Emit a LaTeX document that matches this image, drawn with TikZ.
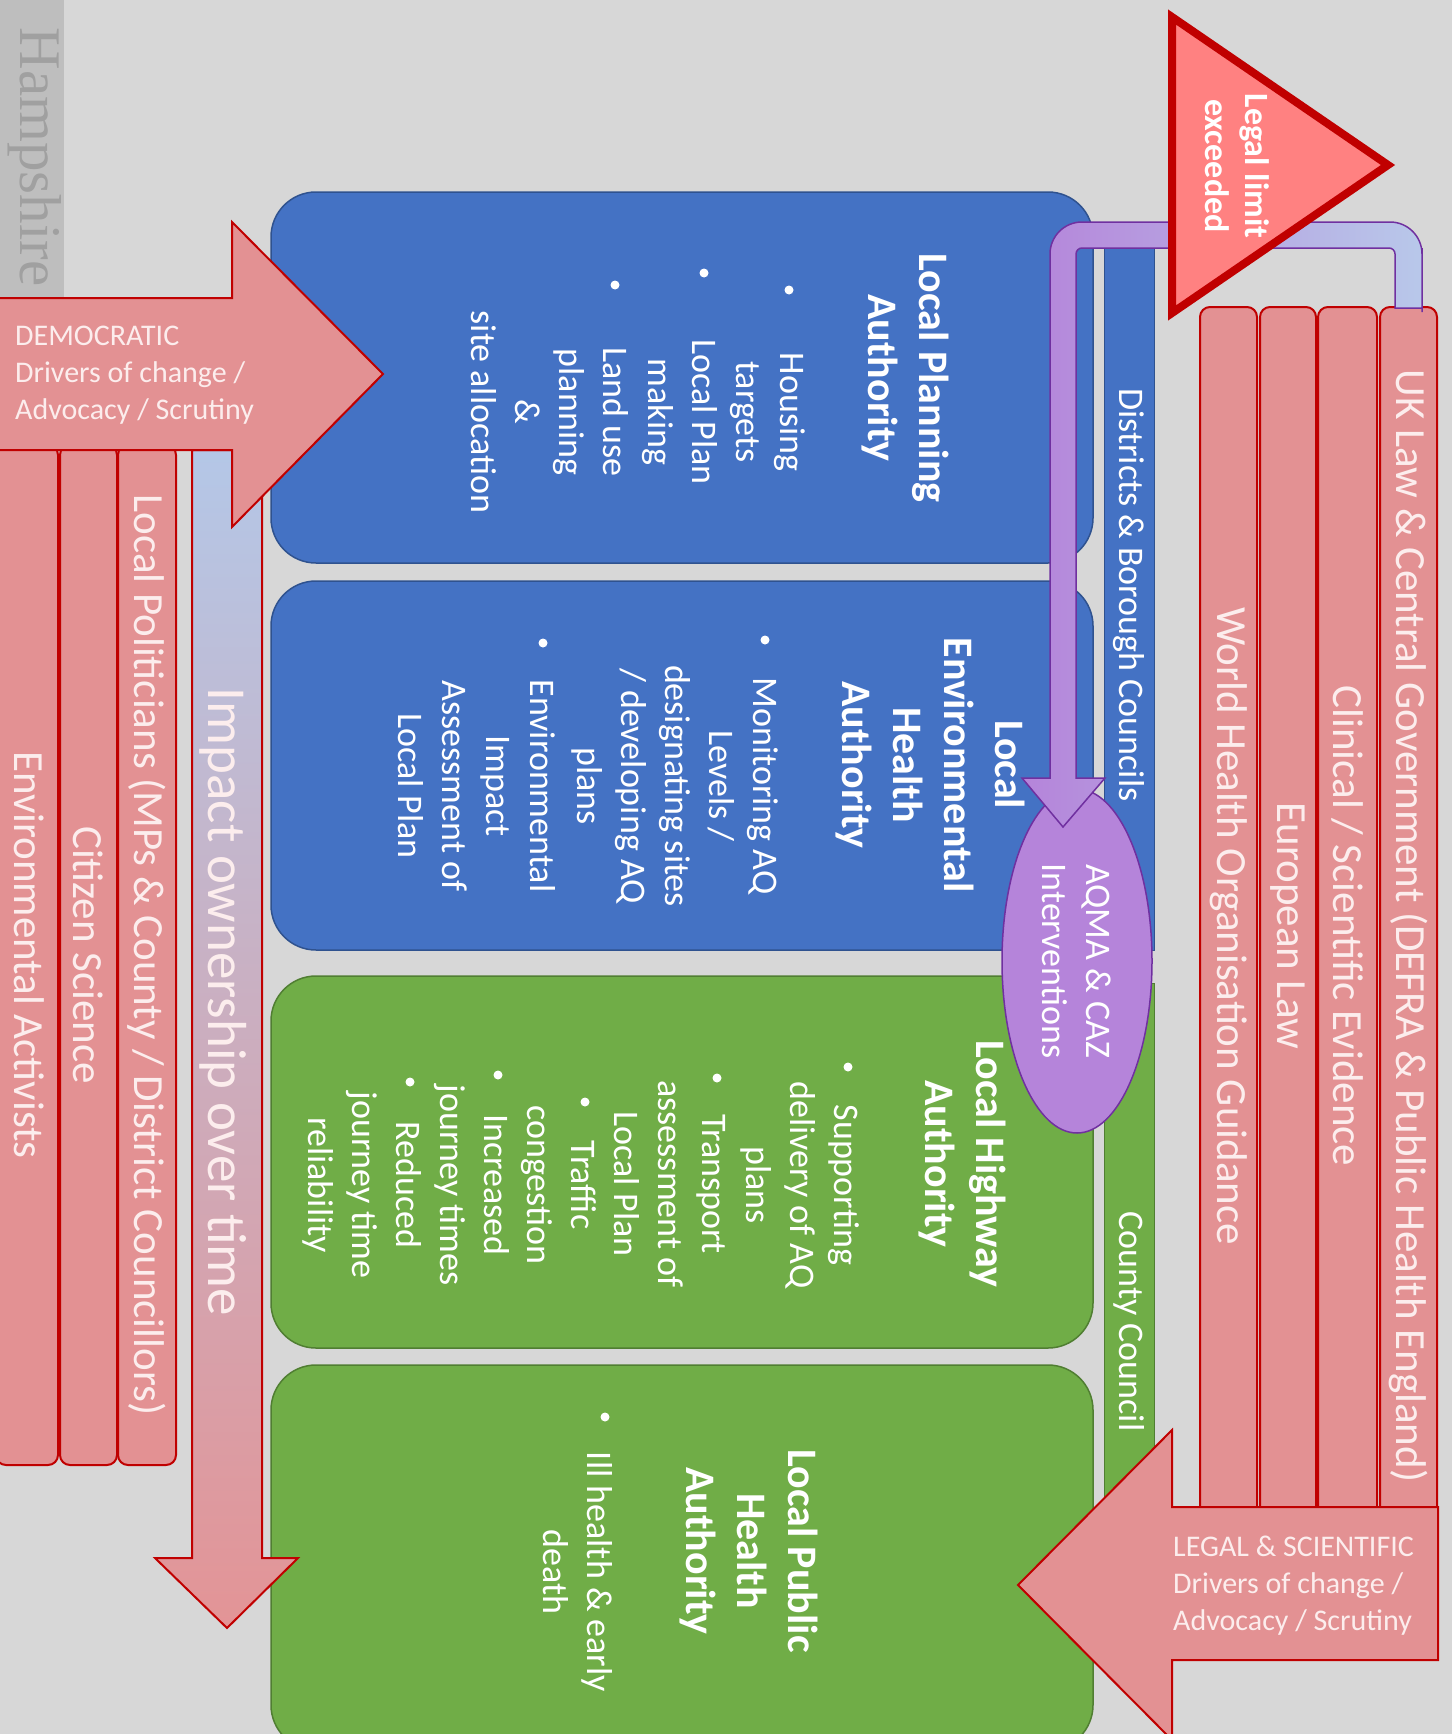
\documentclass[tikz,border=0pt]{standalone}
\usepackage{fontspec}
\setmainfont{Carlito}
\newfontfamily\hampfont{Liberation Serif}
\usetikzlibrary{shapes.geometric}
\definecolor{bg}{HTML}{D7D7D7}
\definecolor{stripgrey}{HTML}{BEBEBE}
\definecolor{redfill}{HTML}{E39193}
\definecolor{rededge}{HTML}{C00000}
\definecolor{trifill}{HTML}{FF8181}
\definecolor{bluefill}{HTML}{4472C4}
\definecolor{blueedge}{HTML}{2F528F}
\definecolor{greenfill}{HTML}{70AD47}
\definecolor{greenedge}{HTML}{507E32}
\definecolor{purfill}{HTML}{B584DA}
\definecolor{puredge}{HTML}{7030A0}
\definecolor{pipeblue}{HTML}{B8C8EA}
\definecolor{imppblue}{HTML}{B4C7E7}
\definecolor{impppink}{HTML}{E39496}
\definecolor{pinkwhite}{HTML}{FCEDED}
\definecolor{hampgrey}{HTML}{A0A0A0}
\newcommand\fsBody{\fontsize{36}{44}\selectfont}
\newcommand\fsTitle{\fontsize{42}{51}\selectfont\bfseries}
\newcommand\fsBar{\fontsize{43}{48}\selectfont}
\newcommand\fsDrv{\fontsize{30}{37}\selectfont}
\tikzset{
  rtext/.style={rotate=-90, text=white, align=center, inner sep=0pt, font=\fsBody},
  rtitle/.style={rotate=-90, text=white, align=center, inner sep=0pt, font=\fsTitle},
  bartext/.style={rotate=-90, text=pinkwhite, inner sep=0pt, font=\fsBar},
  dot/.style={circle, fill=white, inner sep=0pt, minimum size=9pt},
  redbar/.style={fill=redfill, draw=rededge, line width=2pt, rounded corners=10pt},
  bluebox/.style={rectangle, fill=bluefill, draw=blueedge, line width=1.5pt, rounded corners=45pt},
  greenbox/.style={rectangle, fill=greenfill, draw=greenedge, line width=1.5pt, rounded corners=45pt},
  bigarrow/.style={fill=redfill, draw=rededge, line width=2pt, line join=miter},
  drvtext/.style={anchor=west, align=left, font=\fsDrv, text=pinkwhite, inner sep=0pt},
}
\begin{document}
\begin{tikzpicture}[x=1pt,y=-1pt]
\useasboundingbox (0,0) rectangle (1452,1734);
\clip (0,0) rectangle (1452,1734);
\fill[bg] (0,0) rectangle (1452,1734);
\fill[stripgrey] (0,0) rectangle (64,300);
\node[rotate=-90, font=\hampfont\fontsize{59}{60}\selectfont, text=hampgrey, inner sep=0pt] (hamp) at (35,157) {Hampshire};

% right bars
\draw[redbar] (1200,307) rectangle (1257,1545);
\draw[redbar] (1260,307) rectangle (1316,1545);
\draw[redbar] (1318,307) rectangle (1377,1545);
\draw[redbar] (1380,307) rectangle (1437,1545);
\node[bartext] (uk) at (1408.5,926) {UK Law \& Central Government (DEFRA \& Public Health England)};
\node[bartext] (clin) at (1347.5,926) {Clinical / Scientific Evidence};
\node[bartext] (eu) at (1288,926) {European Law};
\node[bartext] (who) at (1228.5,926) {World Health Organisation Guidance};

% left bars
\draw[redbar] (-4,445) rectangle (58,1465);
\draw[redbar] (60,445) rectangle (117,1465);
\draw[redbar] (118,445) rectangle (176,1465);
\node[bartext] (pol) at (147,955) {Local Politicians (MPs \& County / District Councillors)};
\node[bartext] (cit) at (88.5,955) {Citizen Science};
\node[bartext] (act) at (29,955) {Environmental Activists};

% council strips
\node[rotate=-90, fill=bluefill, draw=blueedge, line width=1pt, minimum width=710pt, minimum height=50pt, inner sep=0pt, text=white, font=\fsBody] (dist) at (1129,595) {Districts \& Borough Councils};
\node[rotate=-90, fill=greenfill, draw=greenedge, line width=1pt, minimum width=677pt, minimum height=50pt, inner sep=0pt, text=white, font=\fsBody] (cty) at (1129,1321.5) {County Council};

% boxes
\node[bluebox, minimum width=822pt, minimum height=371pt] (lpa) at (682,377.5) {};
\node[bluebox, minimum width=822pt, minimum height=369pt] (leha) at (682,765.5) {};
\node[greenbox, minimum width=822pt, minimum height=372pt] (lha) at (682,1162) {};
\node[greenbox, minimum width=822pt, minimum height=385pt] (lpha) at (682,1557.5) {};

% LPA text
\node[rtitle] (lpaT) at (905,378) {Local Planning\\Authority};
\node[rtext] (lpa1) at (767.5,412) {Housing\\targets};
\node[rtext] (lpa2) at (679.5,412) {Local Plan\\making};
\node[rtext] (lpa3) at (549.5,412) {Land use\\planning\\\&\\site allocation};
\node[dot] (lpab1) at (789,290) {};
\node[dot] (lpab2) at (704,273) {};
\node[dot] (lpab3) at (615,285) {};

% LEHA text
\node[rtitle] (lehaT) at (930,765) {Local\\Environmental\\Health\\Authority};
\node[rtext] (leha1) at (674.5,786) {Monitoring AQ\\Levels /\\designating sites\\/ developing AQ\\plans};
\node[rtext] (leha2) at (476.5,786) {Environmental\\Impact\\Assessment of\\Local Plan};
\node[dot] (lehab1) at (765,640) {};
\node[dot] (lehab2) at (543,643) {};

% LHA text
\node[rtitle] (lhaT) at (962.5,1164) {Local Highway\\Authority};
\node[rtext] (lha1) at (800,1185) {Supporting\\delivery of AQ\\plans};
\node[rtext] (lha2) at (670,1184) {Transport\\assessment of\\Local Plan};
\node[rtext] (lha3) at (558.5,1185) {Traffic\\congestion};
\node[rtext] (lha4) at (471.5,1185) {Increased\\journey times};
\node[rtext] (lha5) at (362,1185) {Reduced\\journey time\\reliability};
\node[dot] (lhab1) at (848,1067) {};
\node[dot] (lhab2) at (717,1078) {};
\node[dot] (lhab3) at (585,1102) {};
\node[dot] (lhab4) at (498,1075) {};
\node[dot] (lhab5) at (410,1082) {};

% LPHA text
\node[rtitle] (lphaT) at (748.5,1551) {Local Public\\Health\\Authority};
\node[rtext] (lpha1) at (577.5,1572) {Ill health \& early\\death};
\node[dot] (lphab1) at (605,1417) {};

% impact arrow
\shadedraw[top color=imppblue, bottom color=impppink, draw=rededge, line width=2pt, line join=miter]
  (192,450) -- (262,450) -- (262,1558) -- (298,1558) -- (227,1628) -- (155,1558) -- (192,1558) -- cycle;
\node[rotate=-90, font=\fontsize{55}{60}\selectfont, text=pinkwhite, inner sep=0pt] (impT) at (223,1002) {Impact ownership over time};

% democratic arrow
\draw[bigarrow] (-5,298) -- (232,298) -- (232,222) -- (383,374) -- (232,527) -- (232,450) -- (-5,450) -- cycle;
\node[drvtext] (demT) at (15,375) {DEMOCRATIC\\Drivers of change /\\Advocacy / Scrutiny};

% ellipse
\node[ellipse, rotate=-90, minimum width=344pt, minimum height=150pt, fill=purfill, draw=puredge, line width=1.5pt, inner sep=0pt, align=center, text=white, font=\fsBody] (aqma) at (1077,961) {AQMA \& CAZ\\Interventions};

% pipe
\shadedraw[left color=purfill, right color=pipeblue, draw=puredge, line width=1.5pt, line join=miter]
  (1408,308) -- (1395,308) [rounded corners=6pt] -- (1395,248) -- (1076,248) -- (1076,500) [sharp corners] -- (1076,778) -- (1105,778) -- (1063,827) -- (1022,778) -- (1050,778) -- (1050,500) [rounded corners=32pt] -- (1050,222) -- (1422,222) -- (1422,280) [sharp corners] -- (1422,308) -- cycle;

% triangle
\draw[fill=trifill, draw=rededge, line width=8pt, line join=miter] (1172,17) -- (1388,165) -- (1172,313) -- cycle;
\node[rotate=-90, font=\fontsize{34}{40}\selectfont\bfseries, text=white, align=center, inner sep=0pt] (legal) at (1237,166) {Legal limit\\exceeded};

% legal arrow
\draw[bigarrow] (1438,1507) -- (1172,1507) -- (1172,1430) -- (1018,1585) -- (1172,1740) -- (1172,1660) -- (1438,1660) -- cycle;
\node[drvtext] (legT) at (1173,1586) {LEGAL \& SCIENTIFIC\\Drivers of change /\\Advocacy / Scrutiny};
\end{tikzpicture}
\end{document}
